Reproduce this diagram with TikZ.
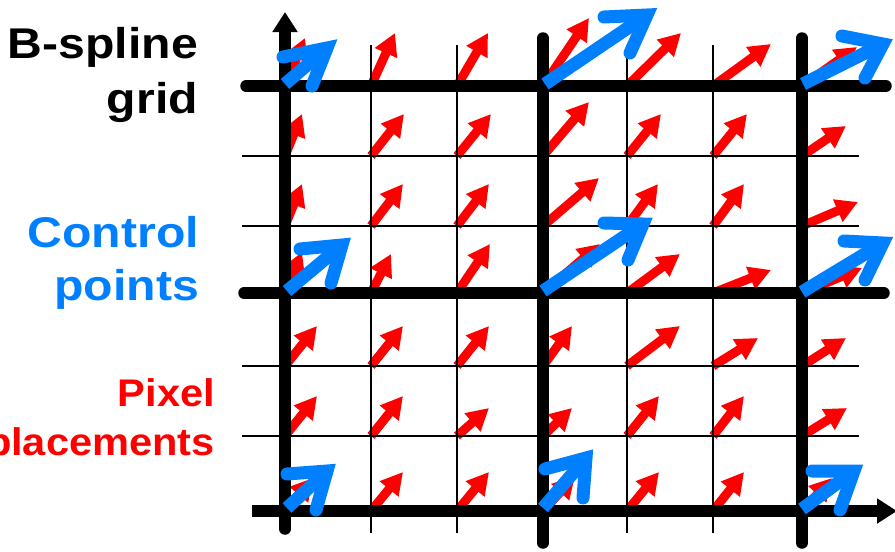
\documentclass[tikz,border=0pt]{standalone}
\usepackage{fontspec}
\usetikzlibrary{arrows.meta}
\newfontfamily\lblfont[FakeStretch=1.12]{Liberation Sans}
\newfontfamily\lblfontred[FakeStretch=1.08]{Liberation Sans}
\definecolor{cpblue}{RGB}{0,128,255}
\definecolor{pxred}{RGB}{255,0,0}
\begin{document}
\begin{tikzpicture}[x=1pt,y=-1pt,
  thinline/.style={line width=2pt,black},
  thickline/.style={line width=11.5pt,black,line cap=round},
  redarrow/.style={line width=9pt,pxred,-{Triangle[length=22pt,width=23pt]}},
  blueshaft/.style={line width=13pt,cpblue,line cap=butt},
  bluehead/.style={line width=13pt,cpblue,line cap=round,line join=miter},
  lbl/.style={anchor=base east,inner sep=0pt,font=\lblfont\bfseries\fontsize{43}{48}\selectfont},
  lblsmall/.style={anchor=base east,inner sep=0pt,font=\lblfontred\bfseries\fontsize{38.5}{45}\selectfont}]
\useasboundingbox (0,0) rectangle (895,552);
% red pixel displacement arrows
\foreach \sx/\sy/\tx/\ty in {
  285/86/305/38, 371/86/395/33, 457/86/488/33, 543/86/589/18, 627/86/681/33, 713/86/771/44, 802/86/857/47,
  285/156/302/114, 371/156/404/114, 457/156/491/114, 543/156/589/102, 627/156/661/114, 713/156/747/114, 802/156/846/126,
  285/226/302/184, 371/226/403/184, 457/226/489/184, 543/226/599/178, 627/226/658/184, 713/226/744/184, 802/226/858/202,
  285/293/302/252, 371/293/391/254, 457/293/490/244, 543/293/600/244, 627/293/680/254, 713/293/771/270, 802/293/862/268,
  285/366/317/326, 371/366/403/326, 457/366/489/326, 543/366/572/326, 627/366/680/326, 713/366/758/338, 802/366/846/338,
  285/436/317/396, 371/436/403/396, 457/436/489/408, 543/436/572/408, 627/436/659/396, 713/436/744/396, 802/436/847/408,
  285/511/313/478, 371/511/403/472, 457/511/489/472, 543/511/575/476, 627/511/659/472, 713/511/744/472, 802/511/832/478}
  {\coordinate (rs) at (\sx,\sy); \coordinate (rt) at (\tx,\ty); \draw[redarrow] (rs) -- (rt);}
% thin grid lines
\foreach \gx in {371,457,627,713}
  {\coordinate (vt) at (\gx,45); \coordinate (vb) at (\gx,533); \draw[thinline] (vt) -- (vb);}
\foreach \gy in {156,226,366,436}
  {\coordinate (hl) at (242,\gy); \coordinate (hr) at (859,\gy); \draw[thinline] (hl) -- (hr);}
% thick grid lines
\coordinate (h1l) at (246,86); \coordinate (h1r) at (886,86);
\coordinate (h2l) at (244,293); \coordinate (h2r) at (884,293);
\coordinate (h3l) at (252,511); \coordinate (h3r) at (897,511);
\coordinate (v1b) at (285,529); \coordinate (v1t) at (285,12);
\coordinate (v2t) at (543,38); \coordinate (v2b) at (543,543);
\coordinate (v3t) at (802,38); \coordinate (v3b) at (802,543);
\draw[thickline] (h1l) -- (h1r);
\draw[thickline] (h2l) -- (h2r);
\draw[thickline,line cap=butt,-{Triangle[length=20pt,width=24pt]}] (h3l) -- (h3r);
\draw[thickline,-{Triangle[length=20pt,width=24pt]}] (v1b) -- (v1t);
\draw[thickline] (v2t) -- (v2b);
\draw[thickline] (v3t) -- (v3b);
% blue control point arrows
\foreach \sx/\sy/\tx/\ty/\ax/\ay/\bx/\by in {
  285/84/327/48/283/57/312/86,
  545/84/647/15/604/17/630/53,
  803/84/883/44/842/36/865/78,
  287/291/342/245/300/249/331/283,
  543/291/643/224/604/223/628/260,
  802/292/883/243/844/241/865/280,
  287/508/327/471/287/474/316/510,
  543/508/586/458/545/469/583/498,
  802/509/854/471/812/471/840/510}
  {\coordinate (bs) at (\sx,\sy); \coordinate (bt) at (\tx,\ty);
   \coordinate (ba) at (\ax,\ay); \coordinate (bb) at (\bx,\by);
   \draw[blueshaft] (bs) -- (bt);
   \draw[bluehead] (ba) -- (bt) -- (bb);}
% labels
\node[lbl,text=black] (t1) at (198,58) {B-spline};
\node[lbl,text=black] (t2) at (198,113) {grid};
\node[lbl,text=cpblue] (t3) at (199,247) {Control};
\node[lbl,text=cpblue] (t4) at (199,300) {points};
\node[lblsmall,text=pxred] (t5) at (215,406) {Pixel};
\node[lblsmall,text=pxred] (t6) at (215,455) {placements};
\end{tikzpicture}
\end{document}
